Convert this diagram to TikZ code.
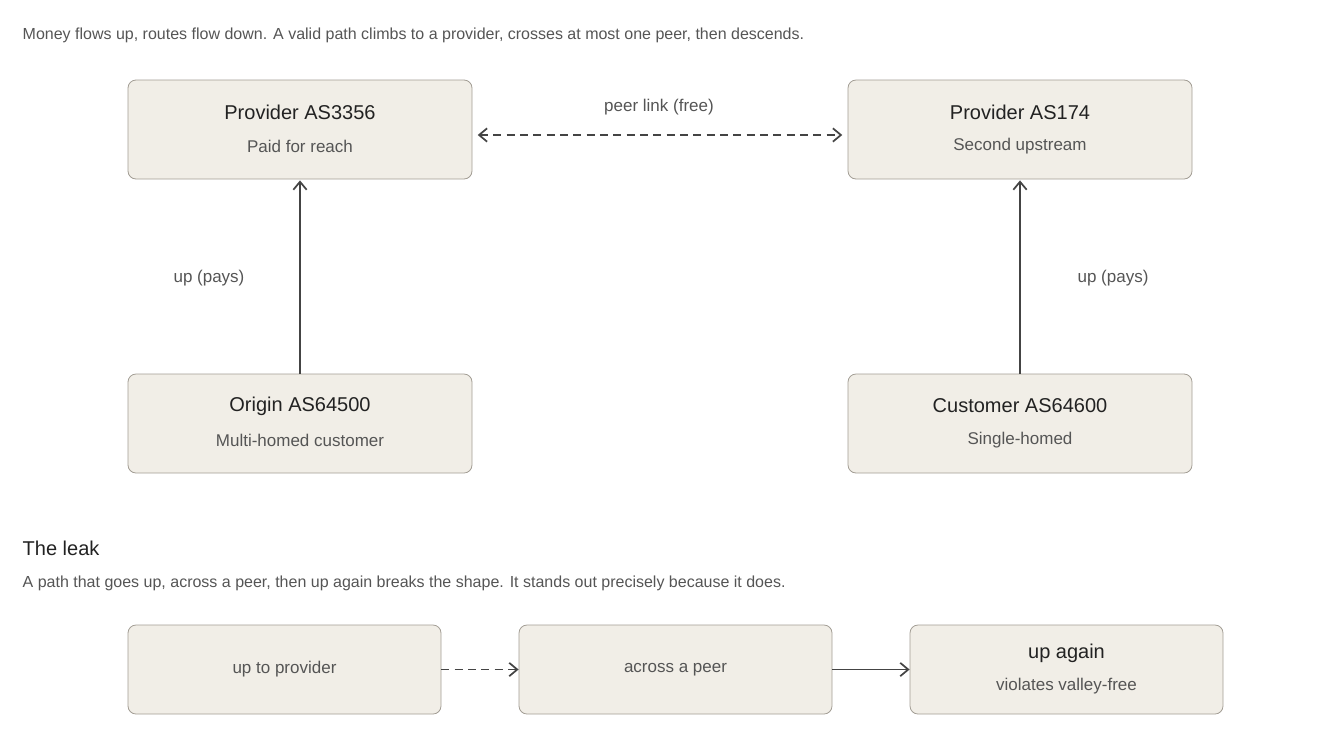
\documentclass[tikz,border=0pt]{standalone}
\usepackage{fontspec}
\setmainfont{Liberation Sans}
\usetikzlibrary{arrows.meta}
\definecolor{boxfill}{HTML}{F1EEE7}
\definecolor{boxline}{HTML}{A29D94}
\definecolor{ink}{HTML}{222222}
\definecolor{sub}{HTML}{555555}
\definecolor{arr}{HTML}{444444}
\begin{document}
\begin{tikzpicture}[x=0.75pt,y=-0.75pt,
  box/.style={draw=boxline,fill=boxfill,rounded corners=6pt,line width=0.6pt,align=center,inner sep=0pt},
  big/.style={box,minimum width=258pt,minimum height=74.25pt},
  small/.style={box,minimum width=234.75pt,minimum height=66.75pt},
  ttl/.style={font=\fontsize{15}{18}\selectfont,text=ink},
  st/.style={font=\fontsize{12.75}{15}\selectfont,text=sub},
  lbl/.style={font=\fontsize{12.75}{15}\selectfont,text=sub},
  con/.style={draw=arr,line width=1.3pt,-{Straight Barb[length=6pt,width=10pt]}},
  dcon/.style={con,dash pattern=on 6pt off 4pt}]
\useasboundingbox (0,0) rectangle (1320,740);
\node[anchor=west,font=\fontsize{12}{14}\selectfont,text=sub] (cap1) at (18,35) {Money flows up, routes flow down. A valid path climbs to a provider, crosses at most one peer, then descends.};
\node[big] (p1) at (300,129.5) {};
\node[ttl] (p1t) at (300,112) {Provider AS3356};
\node[st] (p1s) at (300,146) {Paid for reach};
\node[big] (p2) at (1020,129.5) {};
\node[ttl] (p2t) at (1020,112) {Provider AS174};
\node[st] (p2s) at (1020,146) {Second upstream};
\node[big] (o) at (300,423.5) {};
\node[ttl] (ot) at (300,406) {Origin AS64500};
\node[st] (os) at (300,440) {Multi-homed customer};
\node[big] (c) at (1020,423.5) {};
\node[ttl] (ct) at (1020,406) {Customer AS64600};
\node[st] (cs) at (1020,440) {Single-homed};
\draw[con] (o.north) -- ([yshift=-0.75pt]p1.south);
\draw[con] (c.north) -- ([yshift=-0.75pt]p2.south);
\node[lbl] (l1) at (209,278) {up (pays)};
\node[lbl] (l2) at (1113,278) {up (pays)};
\draw[dcon,{Straight Barb[length=6pt,width=10pt]}-{Straight Barb[length=6pt,width=10pt]}] ([xshift=4pt]p1.east|-0,135) -- ([xshift=-4pt]p2.west|-0,135);
\node[lbl] (pl) at (659,107) {peer link (free)};
\node[anchor=west,font=\fontsize{15}{18}\selectfont,text=ink] (leak) at (18,548) {The leak};
\node[anchor=west,font=\fontsize{12}{14}\selectfont,text=sub] (cap2) at (18,583) {A path that goes up, across a peer, then up again breaks the shape. It stands out precisely because it does.};
\node[small,st] (b1) at (284.5,669.5) {up to provider};
\node[small,st] (b2) at (675.5,669.5) {across a peer};
\node[small] (b3) at (1066.5,669.5) {};
\node[ttl] (b3t) at (1066.5,653) {up again};
\node[st] (b3s) at (1066.5,686) {violates valley-free};
\draw[dcon] (b1.east) -- (b2.west);
\draw[con] (b2.east) -- (b3.west);
\end{tikzpicture}
\end{document}
